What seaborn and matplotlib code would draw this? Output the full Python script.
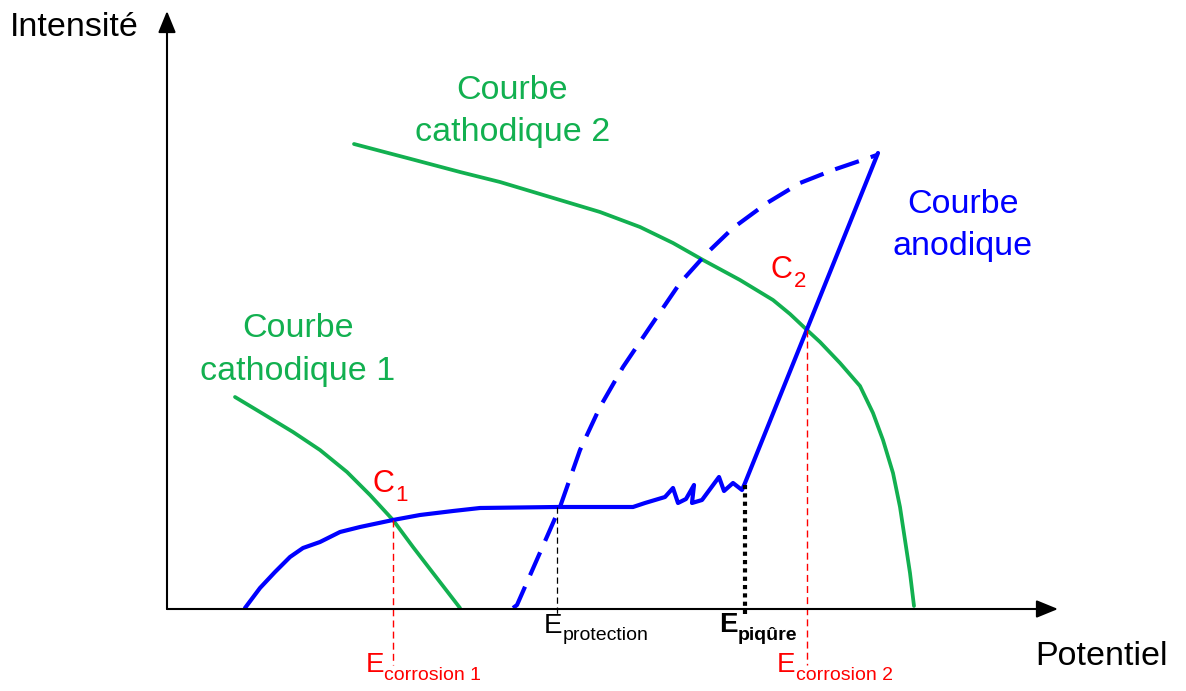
import matplotlib
matplotlib.use("Agg")
import matplotlib.pyplot as plt
import seaborn as sns
import pandas as pd

sns.set_theme(style="white")
plt.rcParams['font.family'] = ['Liberation Sans', 'DejaVu Sans']

# ---- data (pixel-space schematic coordinates) ----
anodic_x = [245, 260, 275, 290, 303, 320, 340, 360, 393, 420, 453, 480, 557, 633,
            645, 655, 665, 673, 678, 686, 694, 692, 702, 719, 724, 733, 742, 745, 878]
anodic_y = [608, 588, 572, 557, 548, 542, 532, 527, 520, 515, 511, 508, 507, 507,
            503, 500, 497, 488, 503, 499, 485, 503, 500, 477, 491, 483, 490, 483, 153]

return_x = [513, 517, 560, 580, 600, 623, 650, 680, 707, 733, 767, 800, 833, 877]
return_y = [608, 605, 507, 450, 407, 367, 327, 283, 253, 228, 203, 183, 170, 155]

cath1_x = [235, 260, 293, 320, 347, 370, 393, 413, 433, 460]
cath1_y = [397, 412, 432, 450, 472, 495, 520, 547, 573, 608]

cath2_x = [354, 411, 460, 500, 560, 600, 640, 673, 703, 740, 773, 790, 807, 820, 840, 860,
           873, 883, 893, 900, 905, 910, 914]
cath2_y = [144, 159, 172, 182, 200, 212, 227, 243, 260, 280, 300, 314, 330, 342, 363, 386,
           413, 440, 473, 507, 540, 573, 606]

BLUE = "#0000FF"
GREEN = "#12B050"
RED = "#FF0000"

fig = plt.figure(figsize=(11.86, 6.91), dpi=100)
ax = fig.add_axes([0, 0, 1, 1])
ax.set_xlim(0, 1186)
ax.set_ylim(691, 0)
ax.axis('off')

# axes with arrows
ax.annotate("", xy=(1058, 609), xytext=(167, 609),
            arrowprops=dict(arrowstyle="-|>,head_length=1.1,head_width=0.45", color="black", lw=1.5,
                            shrinkA=0, shrinkB=0))
ax.annotate("", xy=(167, 11), xytext=(167, 609),
            arrowprops=dict(arrowstyle="-|>,head_length=1.1,head_width=0.45", color="black", lw=1.5,
                            shrinkA=0, shrinkB=0))

# curves
sns.lineplot(data=pd.DataFrame({"x": cath1_x, "y": cath1_y}), x="x", y="y", sort=False,
             color=GREEN, linewidth=2.7, ax=ax)
sns.lineplot(data=pd.DataFrame({"x": cath2_x, "y": cath2_y}), x="x", y="y", sort=False,
             color=GREEN, linewidth=2.7, ax=ax)
sns.lineplot(data=pd.DataFrame({"x": return_x, "y": return_y}), x="x", y="y", sort=False,
             color=BLUE, linewidth=3.0, ax=ax)
ax.lines[-1].set_dashes((6, 3))
sns.lineplot(data=pd.DataFrame({"x": anodic_x, "y": anodic_y}), x="x", y="y", sort=False,
             color=BLUE, linewidth=3.0, ax=ax)
for ln in ax.lines:
    ln.set_solid_joinstyle("round")
    ln.set_dash_joinstyle("round")

# guide lines
ax.plot([393, 393], [520, 665], color=RED, lw=1.0, linestyle=(0, (5, 3)))
ax.plot([807, 807], [330, 665], color=RED, lw=1.0, linestyle=(0, (5, 3)))
ax.plot([557, 557], [507, 614], color="black", lw=0.9, linestyle=(0, (5, 3)))
ax.plot([745, 745], [485, 614], color="black", lw=3.0, linestyle=(0, (1, 1)))

ax.set_xlabel("")
ax.set_ylabel("")

# labels
big = 24.5
ax.text(10, 36, "Intensité", fontsize=big, color="black", va="baseline", ha="left")
ax.text(1035, 665, "Potentiel", fontsize=big, color="black", va="baseline", ha="left")
ax.text(512, 99, "Courbe", fontsize=big, color=GREEN, va="baseline", ha="center")
ax.text(513, 141, "cathodique 2", fontsize=big, color=GREEN, va="baseline", ha="center")
ax.text(298, 337, "Courbe", fontsize=big, color=GREEN, va="baseline", ha="center")
ax.text(298, 380, "cathodique 1", fontsize=big, color=GREEN, va="baseline", ha="center")
ax.text(963, 213, "Courbe", fontsize=big, color=BLUE, va="baseline", ha="center")
ax.text(963, 255, "anodique", fontsize=big, color=BLUE, va="baseline", ha="center")

# C1, C2
ax.text(372, 492, "C", fontsize=22, color=RED, va="baseline", ha="left")
ax.text(395, 501, "1", fontsize=16, color=RED, va="baseline", ha="left")
ax.text(771, 278, "C", fontsize=22, color=RED, va="baseline", ha="left")
ax.text(794, 287, "2", fontsize=16, color=RED, va="baseline", ha="left")

# E labels
ax.text(544, 633, "E", fontsize=20, color="black", va="baseline", ha="left")
ax.text(563, 640, "protection", fontsize=14, color="black", va="baseline", ha="left")
ax.text(719, 632, "E", fontsize=20, color="black", va="baseline", ha="left", fontweight="bold")
ax.text(738, 640, "piqûre", fontsize=14, color="black", va="baseline", ha="left", fontweight="bold")
ax.text(366, 672, "E", fontsize=20, color=RED, va="baseline", ha="left")
ax.text(384, 680, "corrosion 1", fontsize=14, color=RED, va="baseline", ha="left")
ax.text(777, 672, "E", fontsize=20, color=RED, va="baseline", ha="left")
ax.text(796, 680, "corrosion 2", fontsize=14, color=RED, va="baseline", ha="left")

fig.savefig("out.png", dpi=100, facecolor="white")
